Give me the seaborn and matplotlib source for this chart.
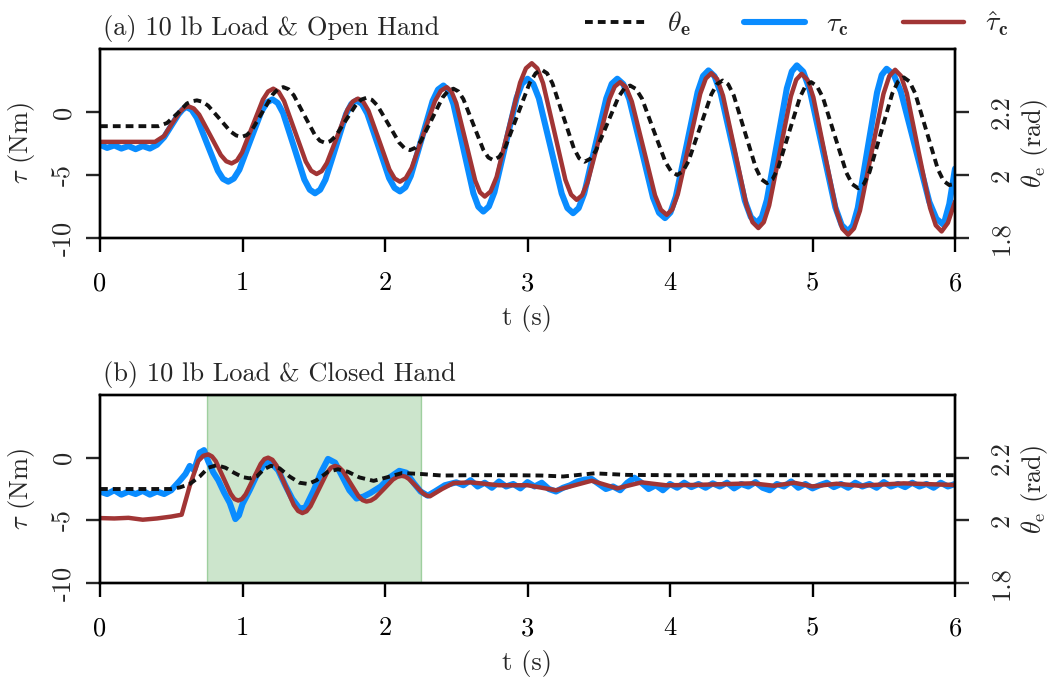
import matplotlib
matplotlib.use("Agg")
import matplotlib.pyplot as plt
from matplotlib.lines import Line2D
import seaborn as sns
import pandas as pd

# ---------------- data ----------------
# (a) 10 lb load & open hand : (t [s], value)
A_TAU_C = [(0, -2.6), (0.05, -2.85), (0.1, -2.65), (0.15, -2.9), (0.2, -2.7), (0.25, -2.95), (0.3, -2.7),
           (0.35, -2.9), (0.40, -2.6), (0.45, -2.0), (0.5, -1.1), (0.55, -0.2), (0.58, 0.2), (0.606, 0.4),
           (0.643, 0.175), (0.68, -0.47), (0.753, -2.565), (0.827, -4.66), (0.863, -5.305), (0.90, -5.53),
           (0.939, -5.282), (0.978, -4.58), (1.055, -2.265), (1.133, 0.05), (1.171, 0.752), (1.21, 1.0),
           (1.247, 0.717), (1.285, -0.09), (1.36, -2.725), (1.434, -5.36), (1.472, -6.167), (1.509, -6.45),
           (1.545, -6.17), (1.582, -5.37), (1.655, -2.765), (1.727, -0.16), (1.764, 0.64), (1.80, 0.92),
           (1.838, 0.646), (1.876, -0.13), (1.953, -2.69), (2.029, -5.25), (2.067, -6.026), (2.105, -6.3),
           (2.143, -5.981), (2.181, -5.07), (2.258, -2.1), (2.334, 0.87), (2.372, 1.781), (2.41, 2.1),
           (2.445, 1.72), (2.48, 0.64), (2.55, -2.9), (2.62, -6.44), (2.655, -7.52), (2.69, -7.9),
           (2.729, -7.5), (2.768, -6.36), (2.845, -2.63), (2.923, 1.10), (2.961, 2.24), (3.0, 2.64),
           (3.04, 2.235), (3.08, 1.08), (3.16, -2.695), (3.24, -6.47), (3.28, -7.625), (3.32, -8.03),
           (3.359, -7.625), (3.398, -6.47), (3.475, -2.695), (3.553, 1.08), (3.591, 2.235), (3.63, 2.64),
           (3.672, 2.22), (3.714, 1.025), (3.798, -2.89), (3.881, -6.8), (3.923, -8.0), (3.965, -8.42),
           (4.003, -7.975), (4.041, -6.71), (4.118, -2.56), (4.194, 1.59), (4.232, 2.855), (4.27, 3.3),
           (4.3125, 2.84), (4.355, 1.53), (4.44, -2.75), (4.525, -7.03), (4.5675, -8.34), (4.61, -8.8),
           (4.645, -8.325), (4.68, -6.975), (4.75, -2.55), (4.82, 1.875), (4.855, 3.225), (4.89, 3.7),
           (4.935, 3.2), (4.98, 1.78), (5.07, -2.89), (5.16, -7.56), (5.205, -8.98), (5.25, -9.48),
           (5.284, -8.99), (5.318, -7.6), (5.385, -3.025), (5.453, 1.55), (5.486, 2.94), (5.52, 3.43),
           (5.57, 2.96), (5.62, 1.62), (5.72, -2.76), (5.82, -7.14), (5.87, -8.48), (5.92, -8.95),
           (5.96, -7.3), (6.0, -4.5)]

A_TAU_HAT = [(0, -2.37), (0.386, -2.37), (0.45, -1.9), (0.5, -1.0), (0.56, 0.0), (0.59, 0.33), (0.62, 0.45),
             (0.658, 0.28), (0.696, -0.21), (0.772, -1.815), (0.848, -3.42), (0.886, -3.91), (0.924, -4.08),
             (0.9605, -3.855), (0.997, -3.21), (1.07, -1.115), (1.143, 0.98), (1.1795, 1.625), (1.216, 1.85),
             (1.254, 1.593), (1.292, 0.86), (1.368, -1.535), (1.444, -3.93), (1.482, -4.663), (1.52, -4.92),
             (1.556, -4.693), (1.592, -4.05), (1.665, -1.93), (1.737, 0.19), (1.774, 0.833), (1.81, 1.06),
             (1.847, 0.81), (1.884, 0.10), (1.958, -2.235), (2.031, -4.57), (2.068, -5.28), (2.105, -5.53),
             (2.146, -5.245), (2.187, -4.435), (2.269, -1.78), (2.351, 0.875), (2.392, 1.685), (2.433, 1.97),
             (2.466, 1.64), (2.50, 0.70), (2.567, -2.37), (2.633, -5.44), (2.667, -6.38), (2.70, -6.71),
             (2.741, -6.308), (2.783, -5.165), (2.865, -1.42), (2.948, 2.325), (2.989, 3.468), (3.03, 3.87),
             (3.069, 3.458), (3.109, 2.29), (3.188, -1.55), (3.266, -5.39), (3.306, -6.558), (3.345, -6.97),
             (3.383, -6.615), (3.421, -5.61), (3.498, -2.30), (3.574, 1.01), (3.612, 2.015), (3.65, 2.37),
             (3.691, 1.97), (3.732, 0.83), (3.814, -2.895), (3.895, -6.62), (3.936, -7.76), (3.977, -8.16),
             (4.016, -7.733), (4.055, -6.52), (4.134, -2.54), (4.212, 1.44), (4.251, 2.653), (4.29, 3.08),
             (4.331, 2.613), (4.372, 1.29), (4.455, -3.065), (4.537, -7.42), (4.579, -8.743), (4.62, -9.21),
             (4.658, -8.745), (4.696, -7.42), (4.772, -3.09), (4.848, 1.24), (4.886, 2.565), (4.924, 3.03),
             (4.965, 2.545), (5.006, 1.17), (5.087, -3.355), (5.169, -7.88), (5.209, -9.255), (5.25, -9.74),
             (5.291, -9.243), (5.333, -7.83), (5.415, -3.195), (5.498, 1.44), (5.539, 2.853), (5.58, 3.35),
             (5.621, 2.862), (5.662, 1.48), (5.743, -3.065), (5.825, -7.61), (5.865, -8.992), (5.906, -9.48),
             (5.95, -8.8), (6.0, -7.1)]

A_THETA = [(0, 2.155), (0.41, 2.155), (0.47, 2.165), (0.545, 2.196), (0.61, 2.227), (0.645, 2.234),
           (0.68, 2.237), (0.719, 2.2326), (0.759, 2.220), (0.838, 2.179), (0.916, 2.138), (0.956, 2.1254),
           (0.995, 2.121), (1.031, 2.127), (1.068, 2.144), (1.14, 2.200), (1.213, 2.256), (1.250, 2.273),
           (1.286, 2.279), (1.323, 2.2723), (1.36, 2.253), (1.433, 2.1905), (1.507, 2.128), (1.543, 2.1087),
           (1.58, 2.102), (1.616, 2.1074), (1.653, 2.123), (1.725, 2.1735), (1.798, 2.224), (1.834, 2.2396),
           (1.87, 2.245), (1.908, 2.2387), (1.946, 2.221), (2.023, 2.162), (2.099, 2.103), (2.137, 2.0853),
           (2.175, 2.079), (2.213, 2.0864), (2.251, 2.107), (2.328, 2.1765), (2.404, 2.246), (2.442, 2.2666),
           (2.48, 2.274), (2.515, 2.2654), (2.55, 2.241), (2.62, 2.1605), (2.69, 2.080), (2.725, 2.0556),
           (2.76, 2.047), (2.8025, 2.0579), (2.845, 2.089), (2.93, 2.1905), (3.015, 2.292), (3.0575, 2.3231),
           (3.1, 2.334), (3.1375, 2.3229), (3.175, 2.291), (3.25, 2.188), (3.325, 2.085), (3.3625, 2.0531),
           (3.40, 2.042), (3.44, 2.0512), (3.48, 2.077), (3.56, 2.163), (3.64, 2.249), (3.68, 2.2748),
           (3.72, 2.284), (3.761, 2.2732), (3.803, 2.243), (3.885, 2.142), (3.968, 2.041), (4.009, 2.0108),
           (4.05, 2.0), (4.09, 2.0114), (4.13, 2.044), (4.21, 2.15), (4.29, 2.256), (4.33, 2.2886),
           (4.37, 2.30), (4.409, 2.2876), (4.448, 2.252), (4.525, 2.137), (4.603, 2.022), (4.641, 1.9864),
           (4.68, 1.974), (4.719, 1.9862), (4.758, 2.021), (4.835, 2.1345), (4.913, 2.248), (4.951, 2.2828),
           (4.99, 2.295), (5.031, 2.2822), (5.073, 2.246), (5.155, 2.1265), (5.238, 2.007), (5.279, 1.9708),
           (5.32, 1.958), (5.36, 1.9714), (5.40, 2.009), (5.48, 2.134), (5.56, 2.259), (5.60, 2.2966),
           (5.64, 2.31), (5.68, 2.297), (5.72, 2.26), (5.80, 2.139), (5.88, 2.018), (5.92, 1.981),
           (5.96, 1.968), (6.0, 1.972)]

# (b) 10 lb load & closed hand
B_TAU_C = [(0, -2.7), (0.05, -2.9), (0.1, -2.6), (0.15, -2.95), (0.2, -2.7), (0.25, -2.9), (0.3, -2.65),
           (0.35, -2.95), (0.4, -2.7), (0.45, -2.9), (0.5, -2.6), (0.56, -1.84), (0.6, -1.3), (0.63, -0.66),
           (0.66, -1.0), (0.70, 0.4), (0.73, 0.6), (0.76, -0.3), (0.795, -1.18), (0.83, -1.8), (0.87, -2.76),
           (0.91, -3.6), (0.95, -4.9), (0.975, -4.6), (1.0, -3.7), (1.05, -2.6), (1.10, -1.4), (1.17, -0.26),
           (1.2, -0.4), (1.25, -1.0), (1.3, -2.2), (1.35, -3.3), (1.40, -4.05), (1.44, -4.0), (1.5, -2.6),
           (1.55, -1.2), (1.60, -0.1), (1.65, -0.4), (1.70, -1.5), (1.75, -2.6), (1.80, -3.26), (1.85, -3.1),
           (1.9, -2.8), (1.97, -2.3), (2.03, -1.6), (2.10, -1.05), (2.15, -1.2), (2.20, -2.0), (2.25, -2.7),
           (2.30, -3.03), (2.35, -2.7), (2.42, -2.2), (2.5, -1.97), (2.55, -2.2), (2.6, -1.8), (2.65, -2.3),
           (2.7, -2.0), (2.75, -2.4), (2.8, -1.9), (2.85, -2.3), (2.9, -2.1), (2.95, -2.45), (3.0, -1.95),
           (3.05, -2.3), (3.1, -2.0), (3.15, -2.5), (3.2, -2.7), (3.25, -2.4), (3.3, -2.2), (3.35, -1.9),
           (3.4, -1.75), (3.45, -1.7), (3.5, -2.1), (3.55, -2.5), (3.6, -2.3), (3.65, -2.6), (3.7, -2.0),
           (3.75, -1.6), (3.8, -2.0), (3.85, -2.5), (3.9, -2.2), (3.95, -2.6), (4.0, -2.1), (4.05, -2.4),
           (4.1, -2.0), (4.15, -2.35), (4.2, -2.1), (4.25, -2.4), (4.3, -2.05), (4.35, -2.3), (4.4, -2.0),
           (4.45, -2.45), (4.5, -2.1), (4.55, -2.3), (4.6, -1.95), (4.65, -2.4), (4.7, -2.6), (4.75, -2.1),
           (4.8, -2.3), (4.85, -1.9), (4.9, -2.4), (4.95, -2.1), (5.0, -2.45), (5.05, -2.2), (5.1, -2.0),
           (5.15, -2.35), (5.2, -2.1), (5.25, -2.4), (5.3, -2.0), (5.35, -2.3), (5.4, -2.1), (5.45, -2.4),
           (5.5, -1.95), (5.55, -2.3), (5.6, -2.1), (5.65, -2.35), (5.7, -2.0), (5.75, -2.3), (5.8, -2.1),
           (5.85, -2.4), (5.9, -2.0), (5.95, -2.3), (6.0, -2.1)]

B_TAU_HAT = [(0, -4.82), (0.1, -4.85), (0.2, -4.8), (0.3, -4.95), (0.4, -4.85), (0.5, -4.7), (0.573, -4.55),
             (0.63, -2.24), (0.69, -0.26), (0.725, 0.15), (0.76, 0.26), (0.786, 0.1), (0.8125, -0.28),
             (0.865, -1.58), (0.9175, -2.88), (0.944, -3.3), (0.97, -3.42), (0.996, -3.3), (1.0225, -2.92),
             (1.075, -1.71), (1.1275, -0.5), (1.154, -0.11), (1.18, 0.0), (1.21, -0.17), (1.24, -0.645),
             (1.30, -2.21), (1.36, -3.775), (1.39, -4.25), (1.42, -4.42), (1.449, -4.28), (1.4775, -3.87),
             (1.535, -2.54), (1.5925, -1.21), (1.621, -0.8), (1.65, -0.66), (1.678, -0.77), (1.705, -1.075),
             (1.76, -2.08), (1.815, -3.085), (1.843, -3.39), (1.87, -3.5), (1.901, -3.42), (1.932, -3.2),
             (1.994, -2.475), (2.055, -1.75), (2.086, -1.53), (2.117, -1.45), (2.142, -1.51), (2.167, -1.69),
             (2.217, -2.265), (2.266, -2.84), (2.291, -3.02), (2.316, -3.08), (2.40, -2.5), (2.48, -2.03),
             (2.6, -1.97), (2.8, -2.2), (3.0, -2.2), (3.2, -2.6), (3.45, -1.84), (3.63, -2.45), (3.80, -1.97),
             (3.97, -2.2), (4.16, -2.18), (4.58, -2.05), (4.73, -2.24), (4.87, -2.0), (5.0, -2.29),
             (5.17, -2.08), (5.33, -2.24), (5.64, -2.05), (6.0, -2.18)]

B_THETA = [(0, 2.10), (0.5, 2.10), (0.56, 2.105), (0.63, 2.116), (0.70, 2.14), (0.76, 2.168), (0.82, 2.176),
           (0.88, 2.168), (0.94, 2.152), (1.0, 2.138), (1.05, 2.134), (1.10, 2.14), (1.15, 2.163), (1.2, 2.174),
           (1.26, 2.166), (1.33, 2.14), (1.40, 2.12), (1.46, 2.116), (1.52, 2.128), (1.6, 2.155), (1.67, 2.163),
           (1.74, 2.155), (1.82, 2.137), (1.92, 2.126), (2.02, 2.138), (2.12, 2.151), (2.25, 2.148),
           (2.4, 2.143), (2.6, 2.144), (2.9, 2.144), (3.1, 2.143), (3.25, 2.14), (3.47, 2.150), (3.7, 2.145),
           (4.0, 2.144), (6.0, 2.144)]

SHADE = (0.75, 2.25)
TITLES = ["(a) 10 lb Load & Open Hand", "(b) 10 lb Load & Closed Hand"]
X_TICKS = [0, 1, 2, 3, 4, 5, 6]
TAU_TICKS = [-10, -5, 0]
TAU_TICK_LABELS = ["-10", "-5", "0"]
THETA_TICKS = [1.8, 2.0, 2.2]
THETA_TICK_LABELS = ["1.8", "2", "2.2"]

# ---------------- style ----------------
sns.set_style("ticks")
plt.rcParams["font.family"] = ["cmr10", "DejaVu Serif"]
plt.rcParams["mathtext.fontset"] = "cm"
plt.rcParams["axes.unicode_minus"] = False
plt.rcParams["axes.formatter.use_mathtext"] = True

FS = 19
BLUE = "#0a8cff"
RED = "#a13535"
BLACK = "#111111"
DASH = (2.0, 1.3)

fig = plt.figure(figsize=(10.49, 6.81), dpi=100)
W = 855 / 1049
L = 100 / 1049
ax_a = fig.add_axes([L, 1 - 238 / 681, W, 189 / 681])
ax_b = fig.add_axes([L, 1 - 583 / 681, W, 188 / 681])


def df(pairs):
    return pd.DataFrame(pairs, columns=["t", "v"])


def style_axes(ax, ax2):
    for a in (ax, ax2):
        for s in a.spines.values():
            s.set_linewidth(1.7)
            s.set_color("black")
            s.set_visible(True)
    ax.set_xlim(0, 6)
    ax.set_ylim(-10, 5)
    ax2.set_ylim(1.8, 2.4)
    ax.set_xticks(X_TICKS, [str(x) for x in X_TICKS])
    ax.set_yticks(TAU_TICKS, TAU_TICK_LABELS)
    ax2.set_yticks(THETA_TICKS, THETA_TICK_LABELS)
    ax.tick_params(axis="x", direction="out", length=10, width=1.7, pad=14, labelsize=FS, colors="black")
    ax.tick_params(axis="y", direction="out", length=10, width=1.7, pad=8, labelsize=FS, labelrotation=90)
    ax2.tick_params(axis="y", direction="out", length=10, width=1.7, pad=15, labelsize=FS, labelrotation=90)
    for lab in ax.get_yticklabels():
        lab.set_va("center")
    for lab in ax2.get_yticklabels():
        lab.set_va("center")
    ax.set_xlabel("t (s)", fontsize=FS, labelpad=7)
    ax.set_ylabel(r"$\tau$ (Nm)", fontsize=FS, labelpad=10)
    ax2.set_ylabel(r"$\theta_\mathrm{e}$ (rad)", fontsize=FS, labelpad=4)


for ax, tau_c, tau_hat, theta, title, shade in [
    (ax_a, A_TAU_C, A_TAU_HAT, A_THETA, TITLES[0], False),
    (ax_b, B_TAU_C, B_TAU_HAT, B_THETA, TITLES[1], True),
]:
    if shade:
        ax.axvspan(SHADE[0], SHADE[1], facecolor=(0.0, 0.5, 0.0, 0.2), edgecolor=(0.0, 0.5, 0.0, 0.3),
                   linewidth=1.0, zorder=0)
    sns.lineplot(data=df(tau_c), x="t", y="v", ax=ax, color=BLUE, linewidth=4.4, sort=False,
                 estimator=None, solid_joinstyle="round", solid_capstyle="round")
    sns.lineplot(data=df(tau_hat), x="t", y="v", ax=ax, color=RED, linewidth=3.2, sort=False,
                 estimator=None, solid_joinstyle="round", solid_capstyle="round")
    ax2 = ax.twinx()
    sns.lineplot(data=df(theta), x="t", y="v", ax=ax2, color=BLACK, linewidth=2.8, sort=False,
                 estimator=None)
    ax2.get_lines()[-1].set_dashes(DASH)
    style_axes(ax, ax2)
    ax.set_title(title, loc="left", fontsize=FS, pad=10, x=0.003)

handles = [Line2D([], [], color=BLACK, lw=2.8, dashes=DASH),
           Line2D([], [], color=BLUE, lw=4.4),
           Line2D([], [], color=RED, lw=3.2)]
labels = [r"$\theta_\mathbf{e}$", r"$\tau_\mathbf{c}$", r"$\hat{\tau}_\mathbf{c}$"]
fig.legend(handles, labels, loc="center right", bbox_to_anchor=(1008 / 1049, 1 - 24 / 681), ncol=3,
           frameon=False, fontsize=FS + 1, handlelength=2.2, handletextpad=0.75, columnspacing=1.95,
           borderpad=0, borderaxespad=0)

fig.savefig("out.png", dpi=100)
